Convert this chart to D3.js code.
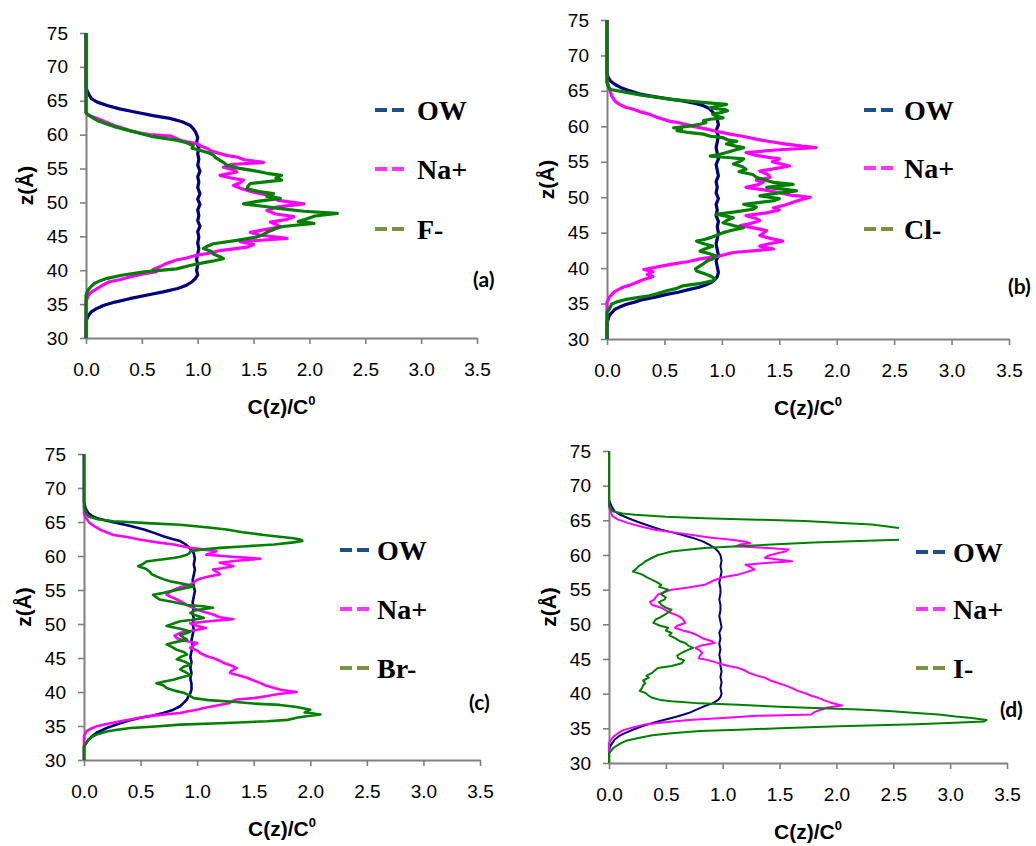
<!DOCTYPE html>
<html lang="en">
<head>
<meta charset="UTF-8">
<title>Density profiles</title>
<script src="https://cdn.jsdelivr.net/npm/d3@7"></script>
<style>
  body { margin: 0; background: #fff; }
</style>
</head>
<body>
<script>
// tick labels and legend names
const xTicks = [0, 0.5, 1.0, 1.5, 2.0, 2.5, 3.0, 3.5];
const yTicks = [30, 35, 40, 45, 50, 55, 60, 65, 70, 75];
const panelNames = ["(a)", "(b)", "(c)", "(d)"];
const anionNames = ["F-", "Cl-", "Br-", "I-"];
const seriesNames = ["OW", "Na+"];

// [z, C(z)/C0]; [null] marks a gap in the line
const owA = [[75,0],[67,0],[66.5,0.01],[65.8,0.03],[65.3,0.05],[64.8,0.1],[64.3,0.19],[63.8,0.3],[63.3,0.45],[62.8,0.6],[62.4,0.75],[61.9,0.86],[61.4,0.93],[60.9,0.96],[60.4,0.98],[59.6,1.0],[58.8,0.99],[58.0,1.01],[57.2,1.0],[56.4,1.01],[55.5,1.0],[54.6,1.02],[53.8,1.0],[53.0,1.01],[52.2,1.0],[51.3,1.02],[50.5,1.0],[49.7,1.02],[48.9,1.0],[48.1,1.01],[47.3,1.0],[46.5,1.02],[45.7,1.0],[44.9,1.01],[44.0,1.0],[43.2,1.01],[42.4,1.0],[41.6,0.99],[40.8,1.0],[40.0,0.99],[39.3,1.0],[38.8,0.98],[38.3,0.95],[37.8,0.9],[37.3,0.82],[36.8,0.69],[36.3,0.54],[35.8,0.39],[35.3,0.26],[34.8,0.155],[34.3,0.09],[33.9,0.05],[33.4,0.025],[32.9,0.01],[32.4,0],[30,0]];
const naA = [[75,0],[63.2,0],[62.85,0.02],[62.4,0.1],[61.9,0.17],[61.4,0.245],[61.0,0.32],[60.6,0.39],[60.2,0.5],[60.0,0.57],[59.8,0.76],[59.4,0.81],[59.0,0.88],[58.7,0.99],[58.3,1.03],[58.0,1.08],[57.6,1.12],[57.2,1.2],[56.9,1.27],[56.7,1.35],[56.3,1.42],[55.9,1.59],[55.6,1.3],[55.2,1.23],[54.8,1.32],[54.5,1.35],[54.0,1.2],[53.6,1.3],[53.3,1.41],[52.9,1.38],[52.5,1.32],[52.0,1.4],[51.5,1.5],[51.1,1.62],[50.8,1.68],[50.3,1.72],[49.8,1.95],[49.3,1.7],[48.8,1.62],[48.3,1.7],[47.9,1.86],[47.5,1.8],[47.1,1.65],[46.8,1.7],[46.4,1.74],[46.0,1.6],[45.6,1.47],[45.2,1.55],[44.7,1.8],[44.2,1.38],[43.8,1.5],[43.4,1.44],[42.9,1.2],[42.5,1.1],[42.2,0.99],[41.8,0.9],[41.5,0.81],[41.0,0.72],[40.5,0.66],[40.1,0.6],[39.8,0.63],[39.4,0.5],[39.0,0.39],[38.6,0.3],[38.3,0.21],[37.8,0.15],[37.3,0.1],[36.8,0.05],[36.3,0.02],[35.3,0],[30,0]];
const fA = [[75,0],[63.3,0],[63.1,0.01],[62.6,0.05],[62.1,0.1],[61.6,0.18],[61.1,0.27],[60.6,0.39],[60.2,0.48],[59.7,0.6],[59.2,0.81],[58.8,0.9],[58.4,0.96],[58.0,0.95],[57.7,1.02],[57.3,1.1],[57.0,1.14],[56.6,1.16],[56.2,1.2],[55.8,1.24],[55.5,1.26],[55.1,1.35],[54.7,1.5],[54.3,1.62],[54.0,1.75],[53.6,1.7],[53.3,1.75],[52.8,1.47],[52.4,1.45],[52.0,1.44],[51.6,1.55],[51.3,1.68],[50.9,1.62],[50.6,1.74],[50.2,1.55],[49.8,1.41],[49.4,1.6],[49.1,1.74],[48.7,1.95],[48.4,2.25],[48.0,2.05],[47.6,1.98],[47.2,1.9],[46.9,2.04],[46.6,1.85],[46.4,1.74],[46.0,1.68],[45.6,1.62],[45.2,1.58],[44.9,1.53],[44.4,1.35],[43.9,1.14],[43.5,1.08],[43.2,1.05],[42.8,1.12],[42.4,1.14],[42.0,1.2],[41.7,1.23],[41.4,1.15],[41.2,1.08],[40.7,0.93],[40.2,0.81],[39.8,0.54],[39.3,0.33],[38.8,0.19],[38.4,0.12],[38.0,0.07],[37.5,0.04],[37.1,0.02],[36.3,0],[30,0]];

const owB = [[75,0],[67.5,0],[66.9,0.01],[66.4,0.03],[65.9,0.07],[65.4,0.13],[65.0,0.2],[64.6,0.28],[64.3,0.37],[63.9,0.52],[63.6,0.66],[63.2,0.78],[62.9,0.84],[62.5,0.89],[62.2,0.91],[61.8,0.93],[61.5,0.95],[61.0,0.96],[60.2,0.97],[59.4,0.95],[58.6,0.97],[57.8,0.96],[57.0,0.95],[56.2,0.96],[55.4,0.97],[54.6,0.95],[53.8,0.96],[53.0,0.97],[52.2,0.95],[51.4,0.96],[50.6,0.95],[49.8,0.97],[49.0,0.95],[48.2,0.96],[47.4,0.95],[46.6,0.97],[45.8,0.96],[45.0,0.97],[44.2,0.96],[43.4,0.95],[42.6,0.96],[41.8,0.97],[41.0,0.95],[40.2,0.96],[39.4,0.97],[38.8,0.96],[38.4,0.94],[38.0,0.91],[37.7,0.87],[37.3,0.8],[37.0,0.72],[36.6,0.62],[36.3,0.52],[35.9,0.42],[35.6,0.32],[35.2,0.24],[34.9,0.17],[34.5,0.11],[34.2,0.07],[33.7,0.04],[33.3,0.02],[32.8,0.01],[32.3,0],[30,0]];
const naB = [[75,0],[66.2,0],[65.9,0.01],[65.3,0.02],[64.8,0.03],[64.3,0.04],[63.8,0.06],[63.4,0.08],[63.1,0.11],[62.7,0.16],[62.4,0.23],[62.0,0.3],[61.7,0.37],[61.3,0.43],[61.0,0.49],[60.7,0.55],[60.5,0.63],[60.2,0.7],[60.0,0.75],[59.6,0.87],[59.3,0.95],[58.9,1.07],[58.6,1.18],[58.2,1.3],[57.9,1.4],[57.5,1.56],[57.2,1.7],[57.0,1.82],[56.7,1.5],[56.3,1.21],[55.9,1.3],[55.4,1.5],[55.0,1.44],[54.4,1.59],[54.0,1.45],[53.7,1.33],[53.2,1.4],[52.8,1.42],[52.4,1.3],[52.1,1.36],[51.7,1.3],[51.4,1.21],[51.0,1.38],[50.7,1.48],[50.3,1.6],[50.0,1.77],[49.6,1.68],[49.3,1.62],[48.9,1.55],[48.5,1.45],[48.2,1.5],[47.8,1.39],[47.4,1.21],[47.0,1.3],[46.7,1.33],[46.3,1.25],[46.0,1.16],[45.6,1.3],[45.3,1.39],[44.9,1.36],[44.6,1.33],[44.2,1.42],[43.8,1.53],[43.4,1.4],[43.1,1.33],[42.7,1.45],[42.2,1.1],[41.7,0.98],[41.3,0.81],[40.9,0.7],[40.6,0.58],[40.2,0.45],[39.8,0.32],[39.5,0.4],[39.1,0.35],[38.8,0.4],[38.4,0.32],[38.0,0.26],[37.6,0.2],[37.3,0.14],[36.9,0.09],[36.6,0.06],[35.9,0.02],[35.2,0],[30,0]];
const clB = [[75,0],[66.2,0],[65.6,0.01],[65.2,0.03],[64.8,0.17],[64.4,0.3],[64.1,0.43],[63.8,0.56],[63.6,0.69],[63.3,0.88],[63.1,1.04],[62.8,0.95],[62.6,0.9],[62.4,1.02],[62.2,1.05],[61.9,0.98],[61.7,0.92],[61.4,0.96],[61.2,1.01],[61.0,0.9],[60.8,0.84],[60.5,0.86],[60.3,0.81],[60.0,0.7],[59.8,0.58],[59.6,0.65],[59.4,0.61],[59.1,0.72],[58.9,0.84],[58.6,0.9],[58.4,1.01],[58.1,1.05],[57.9,1.13],[57.7,1.08],[57.5,1.04],[57.2,1.12],[57.0,1.19],[56.6,1.1],[56.3,1.04],[56.0,0.97],[55.8,0.9],[55.6,1.05],[55.4,1.19],[55.0,1.15],[54.7,1.1],[54.3,1.18],[53.95,1.21],[53.6,1.15],[53.2,1.27],[52.8,1.3],[52.5,1.36],[52.1,1.45],[51.8,1.62],[51.6,1.5],[51.4,1.39],[51.1,1.55],[50.9,1.65],[50.6,1.5],[50.2,1.33],[49.8,1.5],[49.5,1.45],[49.2,1.3],[49.0,1.19],[48.6,1.3],[48.3,1.27],[47.9,1.1],[47.6,0.95],[47.3,1.05],[47.1,1.1],[46.8,1.05],[46.4,1.01],[46.0,1.1],[45.7,1.19],[45.3,1.08],[45.0,1.01],[44.6,0.95],[44.3,0.9],[44.0,0.84],[43.8,0.78],[43.4,0.85],[43.1,0.92],[42.7,0.85],[42.4,0.81],[42.0,0.9],[41.7,0.95],[41.3,0.92],[41.0,0.87],[40.6,0.84],[40.3,0.81],[39.9,0.77],[39.6,0.78],[39.2,0.85],[38.9,0.9],[38.5,0.94],[38.2,0.92],[37.8,0.8],[37.5,0.66],[37.1,0.6],[36.8,0.52],[36.4,0.44],[36.1,0.37],[35.8,0.25],[35.6,0.17],[35.2,0.08],[34.9,0.04],[34.2,0.02],[33.8,0],[30,0]];

const owC = [[75,0],[68,0],[67.3,0.01],[66.8,0.02],[66.3,0.04],[65.9,0.07],[65.6,0.11],[65.2,0.2],[64.85,0.29],[64.4,0.41],[63.9,0.53],[63.4,0.62],[62.9,0.7],[62.5,0.78],[62.2,0.85],[61.8,0.89],[61.4,0.92],[60.9,0.95],[60.4,0.97],[59.6,0.98],[58.8,0.97],[58.0,0.98],[57.2,0.97],[56.4,0.96],[55.6,0.97],[54.8,0.98],[54.0,0.97],[53.2,0.96],[52.4,0.97],[51.6,0.96],[50.8,0.97],[50.0,0.96],[49.2,0.97],[48.4,0.96],[47.6,0.95],[46.8,0.96],[46.0,0.95],[45.2,0.94],[44.4,0.95],[43.6,0.94],[42.8,0.95],[42.0,0.94],[41.2,0.95],[40.4,0.95],[39.8,0.94],[39.3,0.92],[38.9,0.91],[38.4,0.88],[37.9,0.85],[37.4,0.79],[36.9,0.7],[36.5,0.6],[36.2,0.5],[35.8,0.4],[35.4,0.32],[35.0,0.25],[34.7,0.2],[34.3,0.15],[34.0,0.11],[33.5,0.07],[33.0,0.04],[32.5,0.02],[32.0,0],[30,0]];
const naC = [[75,0],[66.3,0],[65.8,0.01],[65.3,0.03],[64.85,0.05],[64.4,0.09],[63.9,0.14],[63.5,0.2],[63.1,0.26],[62.8,0.38],[62.4,0.5],[62.0,0.65],[61.7,0.79],[61.4,0.88],[61.2,0.94],[60.9,1.08],[60.7,1.17],[60.4,1.12],[60.2,1.08],[59.9,1.3],[59.6,1.56],[59.3,1.35],[59.0,1.2],[58.7,1.28],[58.5,1.32],[58.2,1.22],[58.0,1.14],[57.6,1.18],[57.3,1.2],[56.9,1.08],[56.5,1.0],[56.1,0.97],[55.8,0.94],[55.4,0.85],[55.0,0.79],[54.6,0.75],[54.3,0.73],[53.9,0.78],[53.6,0.82],[53.2,0.87],[52.8,0.91],[52.4,0.96],[52.1,1.0],[51.7,1.08],[51.4,1.14],[51.0,1.2],[50.7,1.32],[50.4,1.1],[50.1,0.94],[49.7,1.0],[49.4,1.08],[49.0,0.95],[48.7,0.85],[48.3,0.8],[47.9,0.82],[47.5,0.9],[47.2,1.0],[46.8,0.96],[46.5,0.94],[46.1,1.0],[45.7,1.03],[45.3,1.08],[45.0,1.14],[44.6,1.2],[44.3,1.23],[43.9,1.3],[43.5,1.35],[43.1,1.3],[42.8,1.29],[42.4,1.38],[42.1,1.44],[41.7,1.5],[41.3,1.56],[41.0,1.6],[40.6,1.68],[40.3,1.75],[40.0,1.88],[39.7,1.72],[39.4,1.62],[39.1,1.5],[38.9,1.35],[38.6,1.3],[38.4,1.29],[38.1,1.2],[37.9,1.14],[37.6,1.05],[37.4,1.0],[37.1,0.9],[36.9,0.85],[36.6,0.65],[36.4,0.55],[36.0,0.42],[35.7,0.32],[35.3,0.2],[34.95,0.11],[34.6,0.06],[34.2,0.02],[33.5,0],[30,0]];
const brC = [[75,0],[67.2,0],[66.8,0.01],[66.3,0.02],[65.8,0.04],[65.4,0.12],[65.1,0.26],[64.8,0.6],[64.6,0.85],[64.2,1.1],[63.9,1.26],[63.5,1.4],[63.1,1.59],[62.8,1.75],[62.6,1.85],[62.4,1.92],[62.2,1.93],[62.0,1.85],[61.7,1.68],[61.4,1.4],[61.2,1.2],[60.9,1.02],[60.7,0.94],[60.4,0.93],[60.2,0.91],[59.9,0.85],[59.7,0.79],[59.4,0.65],[59.2,0.55],[58.8,0.52],[58.5,0.48],[58.1,0.55],[57.7,0.58],[57.3,0.6],[57.0,0.64],[56.6,0.7],[56.3,0.76],[55.9,0.88],[55.5,0.97],[55.1,0.85],[54.8,0.76],[54.5,0.68],[54.3,0.61],[53.9,0.64],[53.6,0.67],[53.2,0.8],[52.8,0.91],[52.6,1.05],[52.4,1.14],[52.0,0.98],[51.6,0.94],[51.2,1.0],[50.9,1.06],[50.6,0.95],[50.4,0.85],[50.0,0.78],[49.7,0.73],[49.3,0.85],[48.9,0.94],[48.6,0.9],[48.4,0.85],[48.0,0.88],[47.7,0.91],[47.3,0.8],[47.0,0.73],[46.6,0.78],[46.2,0.82],[45.9,0.88],[45.5,0.91],[45.2,0.86],[44.8,0.82],[44.4,0.9],[44.0,0.94],[43.7,0.88],[43.3,0.85],[42.9,0.9],[42.5,0.94],[42.1,0.85],[41.8,0.79],[41.5,0.7],[41.3,0.64],[41.0,0.7],[40.6,0.73],[40.2,0.8],[39.9,0.88],[39.5,0.93],[39.1,0.97],[38.8,1.1],[38.6,1.29],[38.3,1.5],[38.1,1.73],[37.8,1.88],[37.4,2.0],[37.0,1.95],[36.7,2.09],[36.4,1.95],[36.2,1.88],[35.9,1.8],[35.7,1.62],[35.4,1.2],[35.2,0.85],[34.9,0.6],[34.7,0.41],[34.4,0.28],[34.2,0.2],[33.8,0.12],[33.5,0.08],[33.0,0.04],[32.5,0.02],[32.0,0],[30,0]];

const owD = [[75,0],[68,0],[67.5,0.01],[66.8,0.03],[66.3,0.05],[65.8,0.1],[65.3,0.17],[64.8,0.25],[64.4,0.32],[64.0,0.39],[63.65,0.46],[63.3,0.55],[62.9,0.64],[62.5,0.73],[62.0,0.82],[61.5,0.88],[61.0,0.93],[60.5,0.96],[60.0,0.98],[59.2,0.99],[58.4,0.98],[57.6,0.99],[56.8,0.98],[56.0,0.97],[55.2,0.98],[54.4,0.98],[53.6,0.97],[52.8,0.98],[52.0,0.98],[51.2,0.97],[50.4,0.98],[49.6,0.99],[48.8,0.97],[48.0,0.98],[47.2,0.97],[46.4,0.98],[45.6,0.97],[44.8,0.98],[44.0,0.98],[43.2,0.99],[42.4,0.98],[41.6,0.99],[40.8,0.98],[40.0,0.99],[39.5,0.98],[39.1,0.96],[38.6,0.91],[38.2,0.84],[37.7,0.77],[37.2,0.7],[36.7,0.6],[36.25,0.49],[35.8,0.39],[35.3,0.29],[34.8,0.21],[34.3,0.14],[33.9,0.09],[33.4,0.05],[32.9,0.03],[32.4,0.01],[31.8,0],[30,0]];
const naD = [[75,0],[67,0],[66.5,0.01],[66.0,0.02],[65.6,0.03],[65.1,0.08],[64.6,0.17],[64.1,0.28],[63.65,0.4],[63.3,0.55],[62.9,0.73],[62.5,0.9],[62.2,1.08],[61.9,1.2],[61.7,1.24],[61.5,1.15],[61.25,1.11],[61.0,1.4],[60.8,1.58],[60.5,1.55],[60.3,1.49],[59.9,1.4],[59.6,1.37],[59.3,1.5],[59.1,1.61],[58.8,1.35],[58.6,1.2],[58.2,1.25],[57.9,1.28],[57.5,1.2],[57.2,1.14],[56.8,1.0],[56.4,0.93],[56.0,0.88],[55.7,0.84],[55.3,0.7],[55.0,0.55],[54.6,0.48],[54.3,0.43],[53.9,0.41],[53.6,0.4],[53.2,0.36],[52.8,0.38],[52.4,0.46],[52.0,0.5],[51.6,0.55],[51.3,0.6],[50.9,0.64],[50.5,0.66],[50.2,0.67],[49.8,0.6],[49.5,0.58],[49.1,0.65],[48.75,0.73],[48.4,0.78],[48.0,0.82],[47.6,0.9],[47.3,0.93],[46.9,0.8],[46.6,0.76],[46.2,0.8],[45.9,0.82],[45.5,0.8],[45.1,0.79],[44.8,0.88],[44.4,0.96],[44.0,1.05],[43.7,1.14],[43.3,1.2],[43.0,1.23],[42.6,1.3],[42.3,1.37],[41.9,1.42],[41.5,1.49],[41.2,1.55],[40.8,1.61],[40.4,1.66],[40.1,1.72],[39.7,1.78],[39.4,1.84],[39.0,1.9],[38.7,1.95],[38.3,2.05],[38.0,1.92],[37.6,1.85],[37.3,1.8],[37.0,1.78],[36.8,1.3],[36.5,1.0],[36.2,0.7],[35.8,0.45],[35.5,0.3],[35.1,0.2],[34.7,0.12],[34.3,0.08],[33.8,0.04],[33.2,0.01],[32.8,0],[30,0]];
const iD = [[75,0],[67.2,0],[66.8,0.01],[66.3,0.03],[66.0,0.12],[65.8,0.23],[65.5,0.5],[65.3,0.84],[65.1,1.3],[64.9,1.72],[64.6,2.05],[64.4,2.31],[64.1,2.45],[63.9,2.55],[null],[62.2,2.55],[62.0,2.13],[61.8,1.8],[61.5,1.43],[61.2,1.05],[61.0,0.84],[60.7,0.65],[60.5,0.55],[60.2,0.48],[60.0,0.43],[59.6,0.38],[59.1,0.32],[58.8,0.3],[58.4,0.26],[58.0,0.24],[57.6,0.21],[57.2,0.29],[56.8,0.33],[56.4,0.38],[56.1,0.42],[55.7,0.46],[55.4,0.44],[55.0,0.52],[54.6,0.48],[54.3,0.46],[53.9,0.5],[53.6,0.49],[53.2,0.44],[52.8,0.46],[52.4,0.5],[52.1,0.55],[51.7,0.52],[51.4,0.49],[51.0,0.45],[50.7,0.41],[50.2,0.39],[49.8,0.45],[49.5,0.52],[49.1,0.5],[48.75,0.55],[48.4,0.53],[48.0,0.58],[47.6,0.62],[47.3,0.67],[46.9,0.7],[46.6,0.74],[46.2,0.68],[45.9,0.64],[45.5,0.6],[45.1,0.61],[44.8,0.66],[44.4,0.64],[44.0,0.55],[43.7,0.43],[43.3,0.4],[43.0,0.38],[42.6,0.33],[42.3,0.35],[41.9,0.3],[41.5,0.32],[41.2,0.3],[40.8,0.29],[40.4,0.27],[40.1,0.32],[39.7,0.35],[39.4,0.38],[39.1,0.45],[38.9,0.55],[38.6,0.8],[38.4,1.14],[38.1,1.5],[37.9,1.87],[37.7,2.2],[37.5,2.46],[37.2,2.7],[37.0,2.9],[36.7,3.05],[36.5,3.19],[36.2,3.32],[36.0,3.3],[35.8,3.04],[35.6,2.7],[35.3,2.02],[35.0,1.5],[34.8,1.14],[34.6,0.8],[34.3,0.55],[34.0,0.38],[33.6,0.26],[33.2,0.15],[32.9,0.11],[32.5,0.07],[32.2,0.04],[31.8,0.02],[31.4,0],[30,0]];

const seriesByPanel = [[owA, naA, fA], [owB, naB, clB], [owC, naC, brC], [owD, naD, iD]];

// look
const lineColors = ["#000080", "#ff00ff", "#008000"];
const legendColors = ["#1f4e8c", "#ff33ff", "#77933c"];
const axisColor = "#808080";

// panel frames (pixel layout)
const panels = [
  { x0: 86,  x1: 477,  yTop: 33,  yBot: 338, lw: 3.2, legX: 375, legY: [110, 169, 229], legT: 417, labX: 473,  labY: 287 },
  { x0: 607, x1: 1009, yTop: 20,  yBot: 339, lw: 3.2, legX: 864, legY: [110, 168, 229], legT: 904, labX: 1008, labY: 294 },
  { x0: 84,  x1: 480,  yTop: 454, yBot: 760, lw: 2.6, legX: 340, legY: [550, 609, 668], legT: 377, labX: 469,  labY: 710 },
  { x0: 609, x1: 1007, yTop: 451, yBot: 763, lw: 2.0, legX: 916, legY: [552, 609, 668], legT: 953, labX: 1000, labY: 717 }
];

const W = 1036, H = 846;
const svg = d3.select("body").append("svg")
  .attr("width", W).attr("height", H)
  .style("font-family", "'Liberation Sans', Arial, sans-serif");

panels.forEach(function (p, i) {
  const x = d3.scaleLinear().domain([0, 3.5]).range([p.x0, p.x1]);
  const y = d3.scaleLinear().domain([30, 75]).range([p.yBot, p.yTop]);
  const g = svg.append("g");

  // axes
  const yAxis = g.append("g")
    .attr("transform", `translate(${p.x0},0)`)
    .call(d3.axisLeft(y).tickValues(yTicks).tickSize(6).tickSizeOuter(0).tickPadding(12).tickFormat(d3.format("d")));
  const xAxis = g.append("g")
    .attr("transform", `translate(0,${p.yBot})`)
    .call(d3.axisBottom(x).tickValues(xTicks).tickSize(6).tickSizeOuter(0).tickPadding(19).tickFormat(d3.format(".1f")));

  [xAxis, yAxis].forEach(function (a) {
    a.select(".domain").attr("stroke", axisColor).attr("stroke-width", 2);
    a.selectAll(".tick line").attr("stroke", axisColor).attr("stroke-width", 1.6);
    a.selectAll(".tick text").attr("fill", "#000").style("font-size", "19px")
      .style("font-family", "'Liberation Sans', Arial, sans-serif");
  });

  // axis titles
  const midY = (p.yTop + p.yBot) / 2;
  g.append("text")
    .attr("transform", `translate(${p.x0 - 61},${midY}) rotate(-90)`)
    .attr("text-anchor", "middle")
    .attr("dominant-baseline", "central")
    .style("font-size", "21px").style("font-weight", "bold")
    .text("z(Å)");

  const xt = g.append("text")
    .attr("x", (p.x0 + p.x1) / 2)
    .attr("y", p.yBot + 76)
    .attr("text-anchor", "middle")
    .style("font-size", "21px").style("font-weight", "bold");
  xt.append("tspan").text("C(z)/C");
  xt.append("tspan").attr("dy", -9).style("font-size", "13px").text("0");

  // profiles
  const line = d3.line()
    .defined(d => d[0] !== null)
    .x(d => x(d[1]))
    .y(d => y(d[0]));

  seriesByPanel[i].forEach(function (s, k) {
    g.append("path")
      .datum(s)
      .attr("fill", "none")
      .attr("stroke", lineColors[k])
      .attr("stroke-width", p.lw)
      .attr("stroke-linejoin", "round")
      .attr("d", line);
  });

  // legend
  const names = seriesNames.concat([anionNames[i]]);
  names.forEach(function (n, k) {
    g.append("line")
      .attr("x1", p.legX).attr("x2", p.legX + 29)
      .attr("y1", p.legY[k]).attr("y2", p.legY[k])
      .attr("stroke", legendColors[k])
      .attr("stroke-width", 4)
      .attr("stroke-dasharray", "12,5");
    g.append("text")
      .attr("x", p.legT).attr("y", p.legY[k] + 10)
      .style("font-family", "'Liberation Serif', 'Times New Roman', serif")
      .style("font-weight", "bold")
      .style("font-size", "28px")
      .text(n);
  });

  // panel tag
  g.append("text")
    .attr("x", p.labX).attr("y", p.labY)
    .style("font-family", "Lato, 'Open Sans', sans-serif")
    .style("font-weight", "bold")
    .style("font-size", "21px")
    .text(panelNames[i]);
});
</script>
</body>
</html>
